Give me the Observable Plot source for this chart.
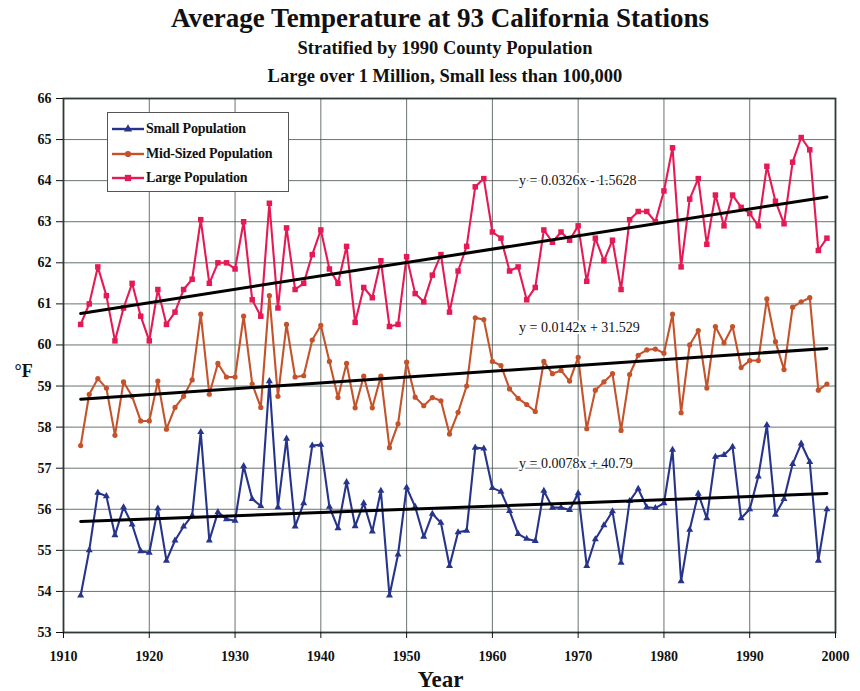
<!DOCTYPE html>
<html>
<head>
<meta charset="utf-8">
<script src="https://cdn.jsdelivr.net/npm/d3@7"></script>
<script src="https://cdn.jsdelivr.net/npm/@observablehq/plot@0.6"></script>
<style>
  html, body { margin: 0; padding: 0; background: #fff; }
  #wrap { position: relative; width: 860px; height: 691px; font-family: "Liberation Serif", "DejaVu Serif", serif; }
  .t { position: absolute; left: 0; width: 890px; text-align: center; font-weight: bold; color: #111; white-space: nowrap; }
  #legend { position: absolute; left: 107px; top: 112px; width: 182px; height: 80px; background: #fff;
            border: 1px solid #555; box-sizing: border-box; padding-top: 4px; }
  .row { display: flex; align-items: center; height: 24.5px; font-weight: bold; font-size: 14px; color: #111; letter-spacing: -0.2px; }
  .row svg { margin-left: 3px; margin-right: 1px; }
</style>
</head>
<body>
<div id="wrap">
  <div class="t" style="top:3px;font-size:27px;width:880px;">Average Temperature at 93 California Stations</div>
  <div class="t" style="top:38px;font-size:18.5px;">Stratified by 1990 County Population</div>
  <div class="t" style="top:66px;font-size:18.5px;">Large over 1 Million, Small less than 100,000</div>
  <div id="chart" style="position:absolute;left:0;top:88px;"></div>
  <div id="legend"></div>
</div>
<script>
const years = [1912,1913,1914,1915,1916,1917,1918,1919,1920,1921,1922,1923,1924,1925,1926,1927,1928,1929,1930,1931,
  1932,1933,1934,1935,1936,1937,1938,1939,1940,1941,1942,1943,1944,1945,1946,1947,1948,1949,1950,1951,
  1952,1953,1954,1955,1956,1957,1958,1959,1960,1961,1962,1963,1964,1965,1966,1967,1968,1969,1970,1971,
  1972,1973,1974,1975,1976,1977,1978,1979,1980,1981,1982,1983,1984,1985,1986,1987,1988,1989,1990,1991,
  1992,1993,1994,1995,1996,1997,1998,1999];

const smallPop = [53.9,55.0,56.4,56.32,55.37,56.05,55.63,54.98,54.94,56.02,54.75,55.24,55.58,55.85,57.88,55.24,55.93,55.76,55.72,57.05,
  56.25,56.08,59.12,56.05,57.72,55.58,56.15,57.55,57.57,56.06,55.54,56.66,55.59,56.15,55.46,56.45,53.9,54.9,56.53,56.06,
  55.33,55.89,55.67,54.62,55.44,55.48,57.5,57.48,56.52,56.43,55.96,55.4,55.28,55.23,56.45,56.04,56.04,55.98,56.39,54.62,
  55.27,55.61,55.95,54.7,56.2,56.5,56.05,56.03,56.15,57.45,54.25,55.5,56.38,55.78,57.28,57.32,57.52,55.78,56.0,56.8,
  58.05,55.87,56.25,57.1,57.6,57.15,54.75,56.0];

const midPop = [57.55,58.8,59.18,58.95,57.8,59.1,58.75,58.15,58.15,59.12,57.95,58.48,58.75,59.15,60.75,58.8,59.55,59.22,59.22,60.7,
  59.05,58.48,61.2,58.75,60.5,59.22,59.25,60.12,60.48,59.6,58.72,59.55,58.47,59.24,58.47,59.24,57.5,58.08,59.58,58.73,
  58.52,58.72,58.64,57.83,58.36,59.0,60.66,60.62,59.6,59.5,58.93,58.7,58.55,58.38,59.6,59.3,59.38,59.12,59.7,57.96,
  58.9,59.1,59.3,57.92,59.28,59.75,59.88,59.9,59.8,60.75,58.35,60.0,60.35,58.95,60.45,60.05,60.45,59.45,59.62,59.62,
  61.12,60.08,59.4,60.92,61.05,61.15,58.9,59.05];

const largePop = [60.5,61.0,61.9,61.2,60.1,60.9,61.5,60.7,60.1,61.35,60.5,60.8,61.35,61.6,63.05,61.5,62.0,62.0,61.85,63.0,
  61.1,60.7,63.45,60.9,62.85,61.35,61.5,62.2,62.8,61.85,61.5,62.4,60.55,61.4,61.15,62.05,60.45,60.5,62.15,61.25,
  61.05,61.7,62.2,60.8,61.8,62.4,63.85,64.05,62.75,62.6,61.8,61.9,61.1,61.4,62.8,62.5,62.75,62.55,62.9,61.55,
  62.6,62.05,62.55,61.35,63.05,63.25,63.25,63.0,63.75,64.8,61.9,63.55,64.05,62.45,63.65,62.9,63.65,63.35,63.2,62.9,
  64.35,63.5,62.95,64.45,65.05,64.75,62.3,62.6];

const seriesNames = ["Small Population", "Mid-Sized Population", "Large Population"];
const seriesValues = [smallPop, midPop, largePop];
const seriesColors = ["#27348b", "#c4532b", "#e51a55"];
const seriesSymbols = ["triangle", "circle", "square"];

const trendSlopes = [0.0078, 0.0142, 0.0326];
const trendIntercepts = [40.79, 31.529, -1.5628];
const trendLabels = ["y = 0.0078x + 40.79", "y = 0.0142x + 31.529", "y = 0.0326x - 1.5628"];
const trendLabelYear = 1963.1;
const trendLabelValue = [57.12, 60.42, 64.0];

const xTicks = [1910,1920,1930,1940,1950,1960,1970,1980,1990,2000];
const yTicks = [53,54,55,56,57,58,59,60,61,62,63,64,65,66];

const tables = seriesValues.map((vals, i) => years.map((yr, j) => ({year: yr, value: vals[j], series: seriesNames[i]})));
const trends = trendSlopes.map((m, i) => [years[0], years[years.length - 1]].map(yr => ({year: yr, value: m * yr + trendIntercepts[i]})));
const labels = trendLabels.map((t, i) => ({text: t, year: trendLabelYear, value: trendLabelValue[i]}));

const marks = [
  Plot.gridY(yTicks, {stroke: "#44504c", strokeOpacity: 0.8, strokeWidth: 1}),
  Plot.gridX(xTicks, {stroke: "#44504c", strokeOpacity: 0.8, strokeWidth: 1}),
  Plot.frame({stroke: "#2f3a36", strokeWidth: 1.8}),
];
tables.forEach((t, i) => {
  marks.push(Plot.line(t, {x: "year", y: "value", stroke: seriesColors[i], strokeWidth: 2.1}));
  marks.push(Plot.dot(t, {x: "year", y: "value", fill: seriesColors[i], symbol: seriesSymbols[i], r: i === 2 ? 3.1 : 2.6}));
});
trends.forEach(t => marks.push(Plot.line(t, {x: "year", y: "value", stroke: "#000", strokeWidth: 3})));
marks.push(Plot.text(labels, {x: "year", y: "value", text: "text", textAnchor: "start", fill: "#111",
  stroke: "white", strokeWidth: 4, fontSize: 14, fontFamily: "Liberation Serif"}));
marks.push(Plot.axisX(xTicks, {tickFormat: d => String(d), tickSize: 6, tickPadding: 13, fontSize: 14, fontWeight: "bold", label: null}));
marks.push(Plot.axisY(yTicks, {tickSize: 7, tickPadding: 5, fontSize: 14, fontWeight: "bold", label: null}));
marks.push(Plot.text(["°F"], {frameAnchor: "left", dx: -49, dy: 6, fontSize: 18, fontWeight: "bold", fill: "#111"}));
marks.push(Plot.text(["Year"], {frameAnchor: "bottom", dx: -9, dy: 54, fontSize: 23, fontWeight: "bold", fill: "#111"}));

const chart = Plot.plot({
  width: 860,
  height: 603,
  marginTop: 10,
  marginBottom: 59,
  marginLeft: 63,
  marginRight: 25,
  style: {fontFamily: "Liberation Serif", color: "#111", background: "white", overflow: "visible"},
  x: {domain: [1910, 2000]},
  y: {domain: [53, 66]},
  marks
});
document.getElementById("chart").appendChild(chart);

// legend
const legend = d3.select("#legend");
seriesNames.forEach((name, i) => {
  const row = legend.append("div").attr("class", "row");
  const s = row.append("svg").attr("width", 34).attr("height", 12);
  s.append("line").attr("x1", 1).attr("x2", 33).attr("y1", 6).attr("y2", 6)
    .attr("stroke", seriesColors[i]).attr("stroke-width", 2.4);
  const sym = d3.symbol(i === 0 ? d3.symbolTriangle : i === 1 ? d3.symbolCircle : d3.symbolSquare, i === 2 ? 40 : 30);
  s.append("path").attr("d", sym()).attr("transform", "translate(17,6)").attr("fill", seriesColors[i]);
  row.append("span").text(name);
});
</script>
</body>
</html>
